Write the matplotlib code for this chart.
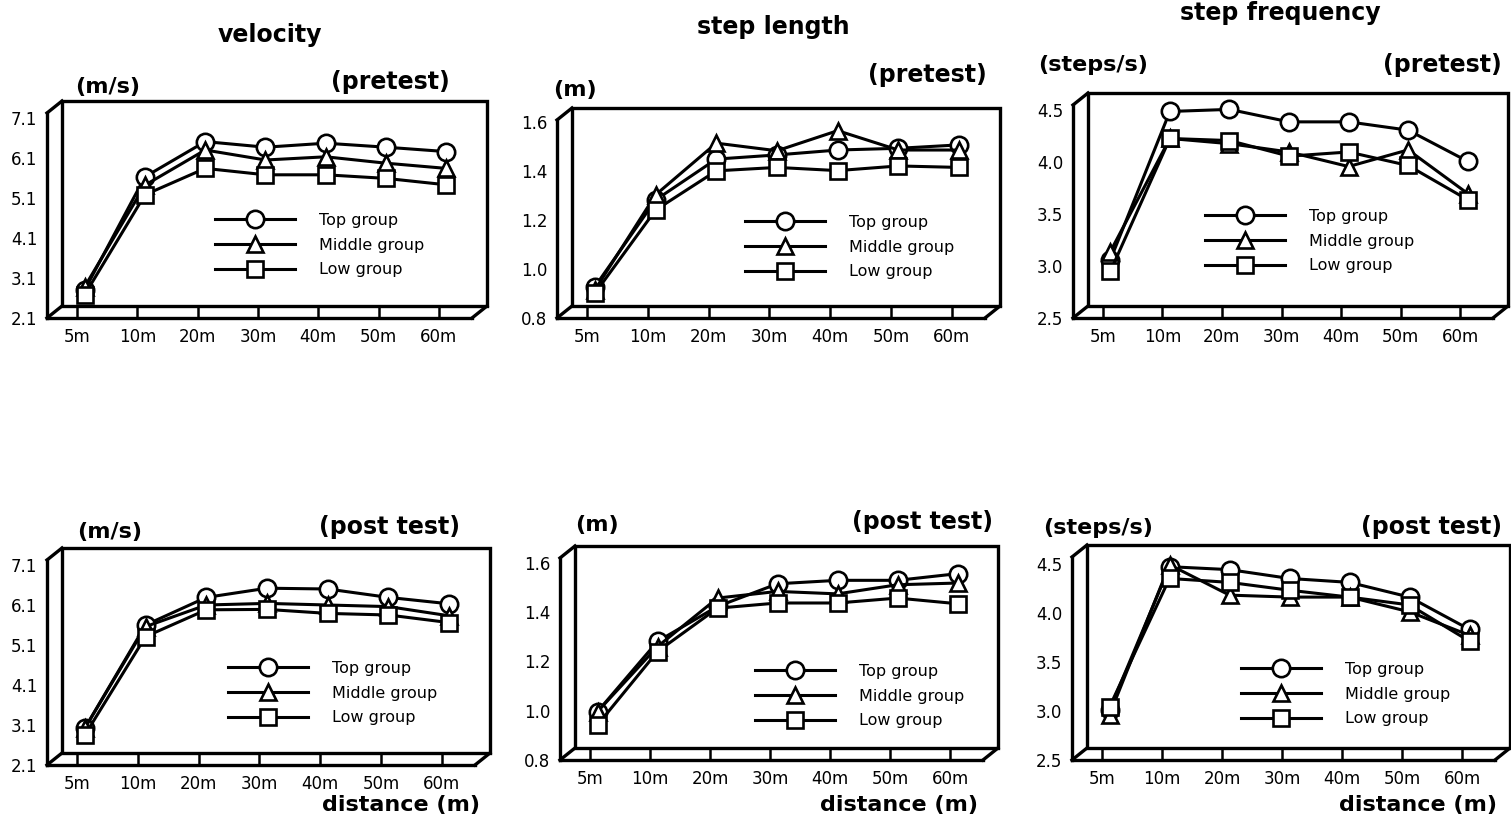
import matplotlib
matplotlib.use('Agg')
import matplotlib.pyplot as plt
from matplotlib.patches import Rectangle
from matplotlib.transforms import offset_copy

W, H = 1511, 823

distances = ['5m', '10m', '20m', '30m', '40m', '50m', '60m']
groups = ['Top group', 'Middle group', 'Low group']

# velocity (m/s)
vel_pre_top = [2.65, 5.48, 6.36, 6.22, 6.32, 6.22, 6.11]
vel_pre_mid = [2.73, 5.27, 6.15, 5.90, 5.98, 5.82, 5.69]
vel_pre_low = [2.53, 5.03, 5.69, 5.53, 5.53, 5.44, 5.28]
vel_post_top = [2.87, 5.45, 6.14, 6.37, 6.35, 6.14, 5.98]
vel_post_mid = [2.87, 5.41, 5.95, 5.99, 5.95, 5.91, 5.68]
vel_post_low = [2.70, 5.16, 5.83, 5.84, 5.74, 5.70, 5.51]

# step length (m)
len_pre_top = [0.903, 1.257, 1.424, 1.441, 1.461, 1.468, 1.482]
len_pre_mid = [0.890, 1.278, 1.489, 1.458, 1.540, 1.461, 1.461]
len_pre_low = [0.876, 1.216, 1.376, 1.390, 1.377, 1.396, 1.390]
len_post_top = [0.972, 1.257, 1.399, 1.491, 1.505, 1.505, 1.532]
len_post_mid = [0.972, 1.236, 1.433, 1.460, 1.450, 1.487, 1.494]
len_post_low = [0.918, 1.216, 1.392, 1.413, 1.413, 1.433, 1.410]

# step frequency (steps/s)
frq_pre_top = [3.00, 4.43, 4.45, 4.33, 4.33, 4.25, 3.95]
frq_pre_mid = [3.08, 4.17, 4.12, 4.04, 3.90, 4.06, 3.64]
frq_pre_low = [2.89, 4.17, 4.15, 4.00, 4.04, 3.91, 3.58]
frq_post_top = [2.95, 4.41, 4.38, 4.29, 4.25, 4.10, 3.77]
frq_post_mid = [2.90, 4.43, 4.12, 4.10, 4.10, 3.95, 3.71]
frq_post_low = [2.98, 4.29, 4.25, 4.17, 4.10, 4.02, 3.65]

vel_ticks = [2.1, 3.1, 4.1, 5.1, 6.1, 7.1]
len_ticks = [0.8, 1.0, 1.2, 1.4, 1.6]
frq_ticks = [2.5, 3.0, 3.5, 4.0, 4.5]

# front box in pixels (left, top, right, bottom), ylim, legend (x, top y)
panels = [
    dict(box=(47, 113, 472, 318), ylim=(2.1, 7.225), ticks=vel_ticks,
         data=(vel_pre_top, vel_pre_mid, vel_pre_low), leg=(215, 213),
         unit='(m/s)', unit_xy=(75, 87), test='(pretest)', test_xy=(450, 82)),
    dict(box=(557, 120, 985, 318), ylim=(0.8, 1.608), ticks=len_ticks,
         data=(len_pre_top, len_pre_mid, len_pre_low), leg=(745, 215),
         unit='(m)', unit_xy=(553, 90), test='(pretest)', test_xy=(987, 75)),
    dict(box=(1073, 105, 1493, 318), ylim=(2.5, 4.55), ticks=frq_ticks,
         data=(frq_pre_top, frq_pre_mid, frq_pre_low), leg=(1205, 209),
         unit='(steps/s)', unit_xy=(1038, 65), test='(pretest)', test_xy=(1502, 65)),
    dict(box=(47, 560, 475, 765), ylim=(2.1, 7.225), ticks=vel_ticks,
         data=(vel_post_top, vel_post_mid, vel_post_low), leg=(228, 661),
         unit='(m/s)', unit_xy=(77, 532), test='(post test)', test_xy=(460, 527)),
    dict(box=(560, 558, 983, 760), ylim=(0.8, 1.62), ticks=len_ticks,
         data=(len_post_top, len_post_mid, len_post_low), leg=(755, 664),
         unit='(m)', unit_xy=(575, 525), test='(post test)', test_xy=(993, 522)),
    dict(box=(1072, 557, 1495, 760), ylim=(2.5, 4.57), ticks=frq_ticks,
         data=(frq_post_top, frq_post_mid, frq_post_low), leg=(1241, 662),
         unit='(steps/s)', unit_xy=(1043, 528), test='(post test)', test_xy=(1502, 527)),
]

titles = [('velocity', 270, 35), ('step length', 773, 27), ('step frequency', 1280, 13)]
dist_label_x = [480, 978, 1497]

markers = ['o', '^', 's']
msizes = [12.5, 12, 11.5]
DX, DY = 15, 12  # depth of the box, pixels

fig = plt.figure(figsize=(W / 100, H / 100), dpi=100)
fig.patch.set_facecolor('white')


def fx(x):
    return x / W


def fy(y):
    return 1 - y / H


for k, p in enumerate(panels):
    l, t, r, b = p['box']
    ax = fig.add_axes([fx(l), fy(b), (r - l) / W, (b - t) / H])
    ax.patch.set_alpha(0)
    ax.set_xlim(-0.5, 6.55)
    ax.set_ylim(*p['ylim'])
    for s in ['top', 'right']:
        ax.spines[s].set_visible(False)
    for s in ['left', 'bottom']:
        ax.spines[s].set_linewidth(2.4)

    ax.set_xticks(range(len(distances)))
    ax.set_xticklabels(distances)
    ax.set_yticks(p['ticks'])
    ax.set_yticklabels(['%.1f' % v for v in p['ticks']])
    ax.tick_params(axis='x', direction='in', length=8.5, width=1.8, pad=7, labelsize=12)
    ax.tick_params(axis='y', length=0, pad=7, labelsize=12)

    # back wall of the box
    back = offset_copy(ax.transAxes, fig=fig, x=DX, y=DY, units='dots')
    ax.add_patch(Rectangle((0, 0), 1, 1, fill=False, lw=2.4, ec='black',
                           transform=back, clip_on=False, zorder=1))
    ddx = DX / (r - l)
    ddy = DY / (b - t)
    for (x0, y0) in [(0, 1), (0, 0), (1, 0)]:
        ax.plot([x0, x0 + ddx], [y0, y0 + ddy], color='black', lw=2.4,
                transform=ax.transAxes, clip_on=False, zorder=1)

    # data drawn half way into the box
    mid = offset_copy(ax.transData, fig=fig, x=DX / 2, y=DY / 2, units='dots')
    for vals, g, m, ms in zip(p['data'], groups, markers, msizes):
        ax.plot(range(len(vals)), vals, color='black', lw=2.2, marker=m, ms=ms,
                mfc='white', mec='black', mew=1.9, label=g,
                transform=mid, clip_on=False, zorder=3)

    lx, ly = p['leg']
    ax.legend(loc='upper left', bbox_to_anchor=((lx - l) / (r - l), (b - ly) / (b - t)),
              frameon=False, handlelength=5, handletextpad=1.5, labelspacing=0.6,
              borderpad=0, borderaxespad=0, numpoints=1, fontsize=11.5)

    ux, uy = p['unit_xy']
    fig.text(fx(ux), fy(uy), p['unit'], ha='left', va='center',
             fontsize=16, fontweight='bold')
    tx, ty = p['test_xy']
    fig.text(fx(tx), fy(ty), p['test'], ha='right', va='center',
             fontsize=17, fontweight='bold')

for name, x, y in titles:
    fig.text(fx(x), fy(y), name, ha='center', va='center', fontsize=17, fontweight='bold')

for x in dist_label_x:
    fig.text(fx(x), fy(805), 'distance (m)', ha='right', va='center',
             fontsize=16, fontweight='bold')

fig.savefig('out.png', dpi=100)
